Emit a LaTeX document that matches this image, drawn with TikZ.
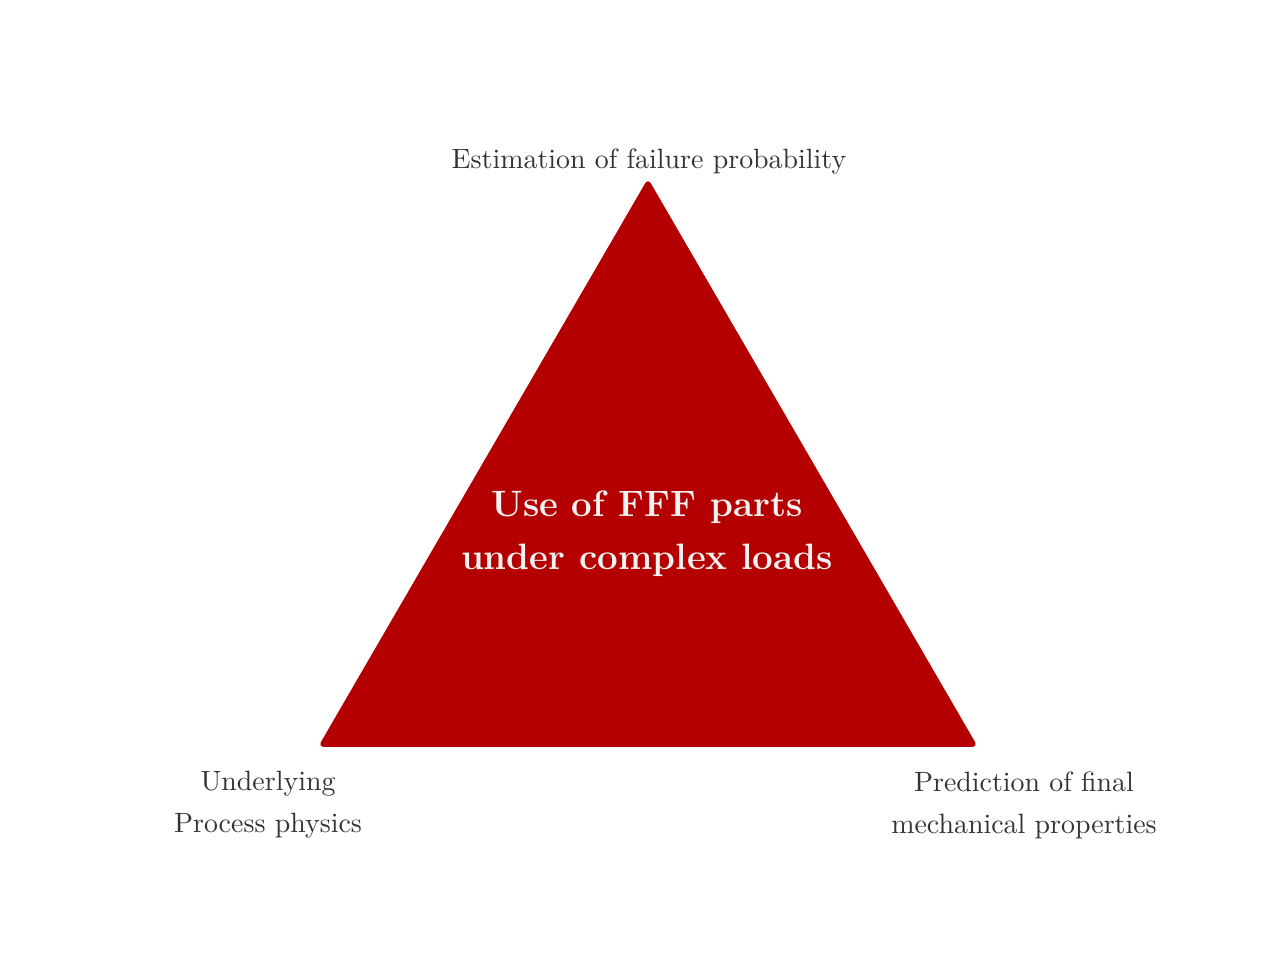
\documentclass[tikz,border=0pt]{standalone}
\usepackage{xcolor}
\definecolor{tri}{RGB}{180,0,0}
\definecolor{lbl}{RGB}{51,51,51}
\begin{document}
\begin{tikzpicture}[x=0.3584pt,y=-0.3584pt,
  lab/.style={text=lbl,align=center,font=\fontsize{10}{15}\selectfont,inner sep=0pt},
  mid/.style={text=white!95!black,align=center,font=\fontsize{13.15}{19}\selectfont\bfseries,inner sep=0pt}]
\useasboundingbox (0,0) rectangle (1280,960);
\coordinate (T) at (648,184);
\coordinate (L) at (323,744);
\coordinate (R) at (973,744);
\fill[tri,draw=tri,line width=2pt,line join=round] (T) -- (L) -- (R) -- cycle;
\node[mid] (c) at (647,534) {Use of FFF parts\\under complex loads};
\node[lab,anchor=base] (t) at (649,168) {Estimation of failure probability};
\node[lab] (bl) at (268,805) {Underlying\\Process physics};
\node[lab] (br) at (1024,805) {Prediction of final\\mechanical properties};
\end{tikzpicture}
\end{document}
